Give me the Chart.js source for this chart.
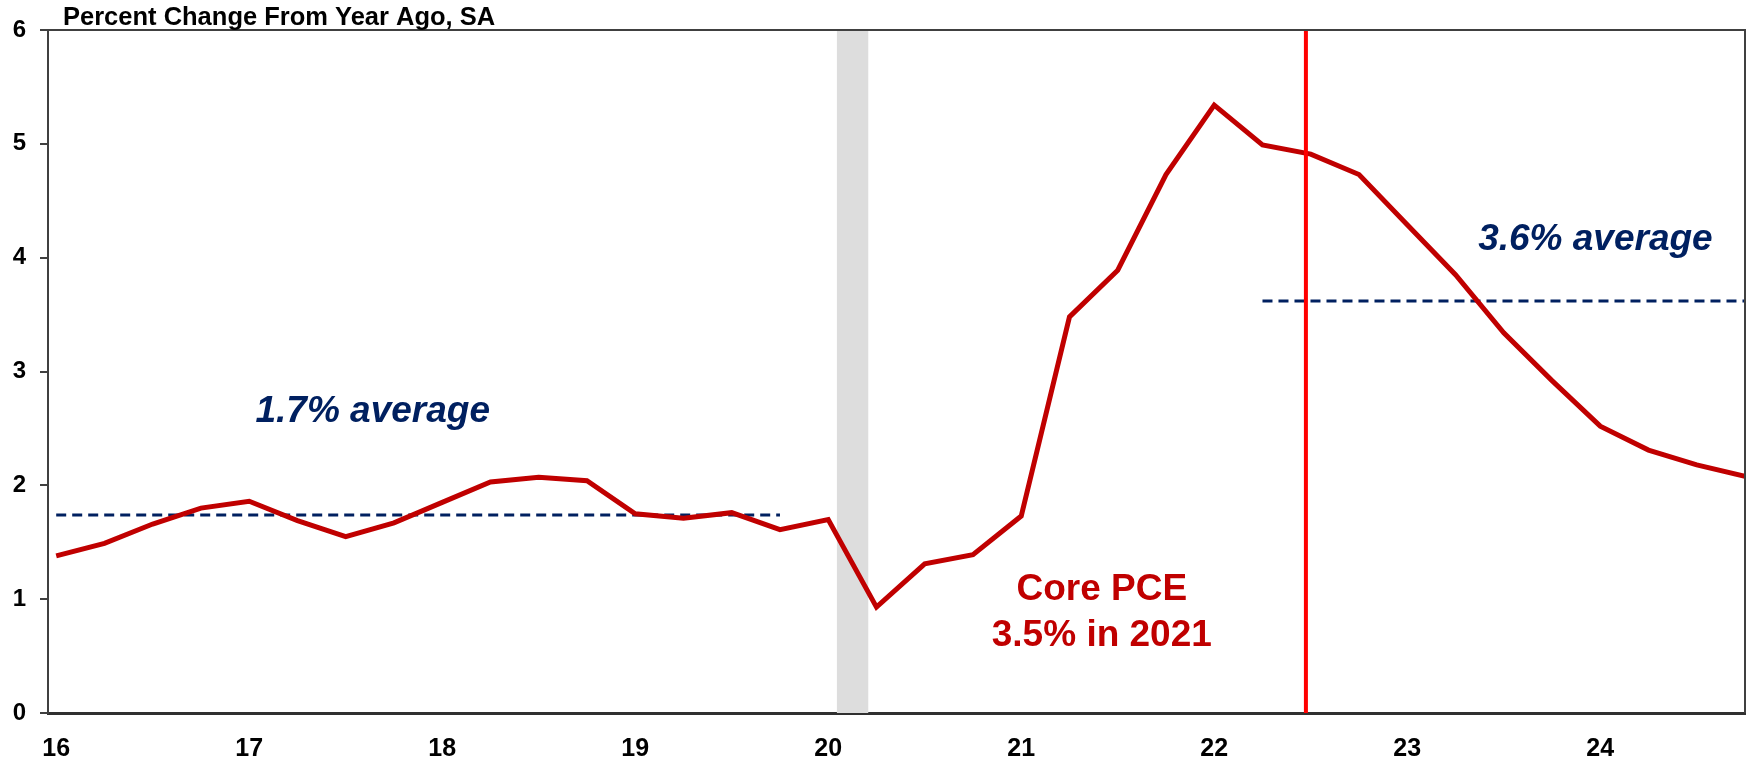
<!DOCTYPE html>
<html>
<head>
<meta charset="utf-8">
<script src="https://cdn.jsdelivr.net/npm/chart.js@4.4.0/dist/chart.umd.min.js"></script>
<style>
  html, body { margin: 0; padding: 0; background: #fff; }
  #wrap { width: 1759px; height: 759px; position: relative; }
</style>
</head>
<body>
<div id="wrap"><canvas id="pceChart"></canvas></div>
<script>
// Core PCE, % change from year ago, quarterly 2016Q1 - 2024Q4
const corePce = [1.38, 1.49, 1.66, 1.80, 1.86, 1.69, 1.55, 1.67,
                 1.85, 2.03, 2.07, 2.04, 1.75, 1.71, 1.76, 1.61,
                 1.70, 0.93, 1.31, 1.39, 1.73, 3.48, 3.89, 4.73,
                 5.34, 4.99, 4.91, 4.73, 4.29, 3.85, 3.34, 2.92,
                 2.52, 2.31, 2.18, 2.08];

// year ticks sit on the first quarter of each year
const yearTicks = [0, 4, 8, 12, 16, 20, 24, 28, 32];
const yearLabels = ['16', '17', '18', '19', '20', '21', '22', '23', '24'];

// averages (start index, end index, value)
const avgPre = [{ x: 0, y: 1.74 }, { x: 15, y: 1.74 }];
const avgPost = [{ x: 25, y: 3.62 }, { x: 35, y: 3.62 }];

// recession shading and the vertical marker
const recession = [16.18, 16.83];
const markerX = 25.9;

const FONT = "'Liberation Sans', Arial, sans-serif";
const NAVY = '#002060';
const DARK_RED = '#C00000';

// grey band, frame, title and the text notes
const extrasPlugin = {
    id: 'extras',
    beforeDatasetsDraw(chart) {
        const { ctx, chartArea, scales } = chart;
        const x0 = scales.x.getPixelForValue(recession[0]);
        const x1 = scales.x.getPixelForValue(recession[1]);
        ctx.save();
        ctx.fillStyle = '#DDDDDD';
        ctx.fillRect(x0, chartArea.top, x1 - x0, chartArea.bottom - chartArea.top);
        ctx.restore();
    },
    afterDraw(chart) {
        const { ctx, chartArea, scales } = chart;
        const x = scales.x, y = scales.y;
        ctx.save();
        // top and right frame
        ctx.strokeStyle = '#404040';
        ctx.lineWidth = 2;
        ctx.beginPath();
        ctx.moveTo(chartArea.left, chartArea.top);
        ctx.lineTo(chartArea.right, chartArea.top);
        ctx.lineTo(chartArea.right, chartArea.bottom);
        ctx.stroke();

        // title above the plot
        ctx.fillStyle = '#000';
        ctx.font = 'bold 25.5px ' + FONT;
        ctx.textAlign = 'left';
        ctx.textBaseline = 'alphabetic';
        ctx.fillText('Percent Change From Year Ago, SA', 63, 25);

        ctx.textAlign = 'center';
        ctx.textBaseline = 'middle';
        // average labels
        ctx.fillStyle = NAVY;
        ctx.font = 'italic bold 37px ' + FONT;
        ctx.fillText('1.7% average', x.getPixelForValue(6.56), y.getPixelForValue(2.65));
        ctx.fillText('3.6% average', x.getPixelForValue(31.9), y.getPixelForValue(4.16));

        // core pce note
        ctx.fillStyle = DARK_RED;
        ctx.font = 'bold 37px ' + FONT;
        ctx.fillText('Core PCE', x.getPixelForValue(21.67), y.getPixelForValue(1.08));
        ctx.fillText('3.5% in 2021', x.getPixelForValue(21.67), y.getPixelForValue(0.68));
        ctx.restore();
    }
};

const ctx = document.getElementById('pceChart').getContext('2d');
const pceChart = new Chart(ctx, {
    type: 'line',
    data: {
        datasets: [
            {
                label: 'Core PCE',
                data: corePce.map((v, i) => ({ x: i, y: v })),
                borderColor: DARK_RED,
                borderWidth: 5,
                pointRadius: 0,
                tension: 0,
                order: 1
            },
            {
                label: 'avg 2016-2019',
                data: avgPre,
                borderColor: NAVY,
                borderWidth: 3,
                borderDash: [10, 6],
                pointRadius: 0,
                order: 2
            },
            {
                label: 'avg 2022-2024',
                data: avgPost,
                borderColor: NAVY,
                borderWidth: 3,
                borderDash: [10, 6],
                pointRadius: 0,
                order: 2
            },
            {
                label: 'marker',
                data: [{ x: markerX, y: 0 }, { x: markerX, y: 6 }],
                borderColor: '#FF0000',
                borderWidth: 4,
                pointRadius: 0,
                order: 0
            }
        ]
    },
    options: {
        responsive: true,
        maintainAspectRatio: false,
        animation: false,
        layout: { padding: { top: 30, right: 14, left: 0, bottom: 0 } },
        plugins: {
            legend: { display: false },
            tooltip: { enabled: false }
        },
        scales: {
            x: {
                type: 'linear',
                min: -0.17,
                max: 35,
                afterBuildTicks: scale => {
                    scale.ticks = yearTicks.map(v => ({ value: v }));
                },
                afterFit: scale => { scale.height = 46; },
                ticks: {
                    autoSkip: false,
                    maxRotation: 0,
                    padding: 13,
                    color: '#000',
                    font: { family: FONT, size: 25, weight: 'bold' },
                    callback: v => yearLabels[yearTicks.indexOf(v)] ?? ''
                },
                grid: { display: false },
                border: { display: true, color: '#303030', width: 3 }
            },
            y: {
                min: 0,
                max: 6,
                afterFit: scale => { scale.width = 48; },
                ticks: {
                    stepSize: 1,
                    padding: 14,
                    color: '#000',
                    font: { family: FONT, size: 24, weight: 'bold' }
                },
                grid: {
                    display: true,
                    drawOnChartArea: false,
                    drawTicks: true,
                    tickLength: 8,
                    color: '#404040',
                    lineWidth: 2
                },
                border: { display: true, color: '#404040', width: 2 }
            }
        }
    },
    plugins: [extrasPlugin]
});
</script>
</body>
</html>
